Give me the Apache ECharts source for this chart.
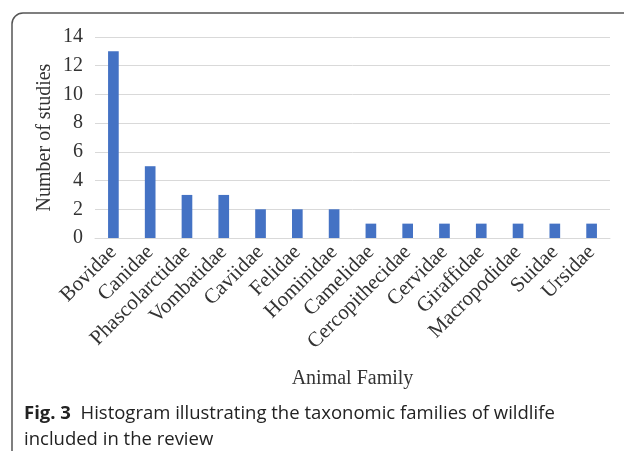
<!DOCTYPE html>
<html>
<head>
<meta charset="utf-8">
<script src="https://cdn.jsdelivr.net/npm/echarts@6/dist/echarts.min.js"></script>
<style>html,body{margin:0;padding:0;background:#fff;}#c{width:624px;height:451px;}</style>
</head>
<body>
<div id="c"></div>
<script>
const categories = ['Bovidae','Canidae','Phascolarctidae','Vombatidae','Caviidae','Felidae','Hominidae','Camelidae','Cercopithecidae','Cervidae','Giraffidae','Macropodidae','Suidae','Ursidae'];
const studies = [13,5,3,3,2,2,2,1,1,1,1,1,1,1];
const yTicks = {min:0, max:14, interval:2};

const chart = echarts.init(document.getElementById('c'));
const serif = 'Liberation Serif';
chart.setOption({
  animation:false,
  backgroundColor:'#fff',
  grid:{left:95, right:14, top:37, bottom:213, containLabel:false},
  xAxis:{
    type:'category', data:categories,
    axisLine:{show:true, lineStyle:{color:'#d9d9d9', width:1}},
    axisTick:{show:false},
    axisLabel:{interval:0, rotate:45, fontFamily:serif, fontSize:21, color:'#333', margin:11},
    name:'Animal Family', nameLocation:'middle', nameGap:131, nameMoveOverlap:false,
    nameTextStyle:{fontFamily:serif, fontSize:20, color:'#333'}
  },
  yAxis:{
    type:'value', min:yTicks.min, max:yTicks.max, interval:yTicks.interval,
    axisLine:{show:false}, axisTick:{show:false},
    splitLine:{lineStyle:{color:'#d9d9d9', width:1}},
    axisLabel:{fontFamily:serif, fontSize:20, color:'#333', margin:12},
    name:'Number of studies', nameLocation:'middle', nameGap:40, nameMoveOverlap:false,
    nameTextStyle:{fontFamily:serif, fontSize:20, color:'#333'}
  },
  series:[{type:'bar', data:studies, barWidth:'29%', itemStyle:{color:'#4472C4'}}],
  title:{
    left:19, top:396,
    text:'{b|Fig. 3}  Histogram illustrating the taxonomic families of wildlife\nincluded in the review',
    textStyle:{fontFamily:'Open Sans', fontSize:18.5, fontWeight:'normal', color:'#222', lineHeight:26,
      rich:{b:{fontFamily:'Open Sans', fontSize:18.5, fontWeight:'bold', color:'#222', lineHeight:26}}}
  },
  graphic:[{type:'rect', shape:{x:12, y:13, width:800, height:600, r:[11,0,0,0]}, style:{fill:'none', stroke:'#555', lineWidth:1.5}, silent:true, z:-1}]
});
</script>
</body>
</html>
